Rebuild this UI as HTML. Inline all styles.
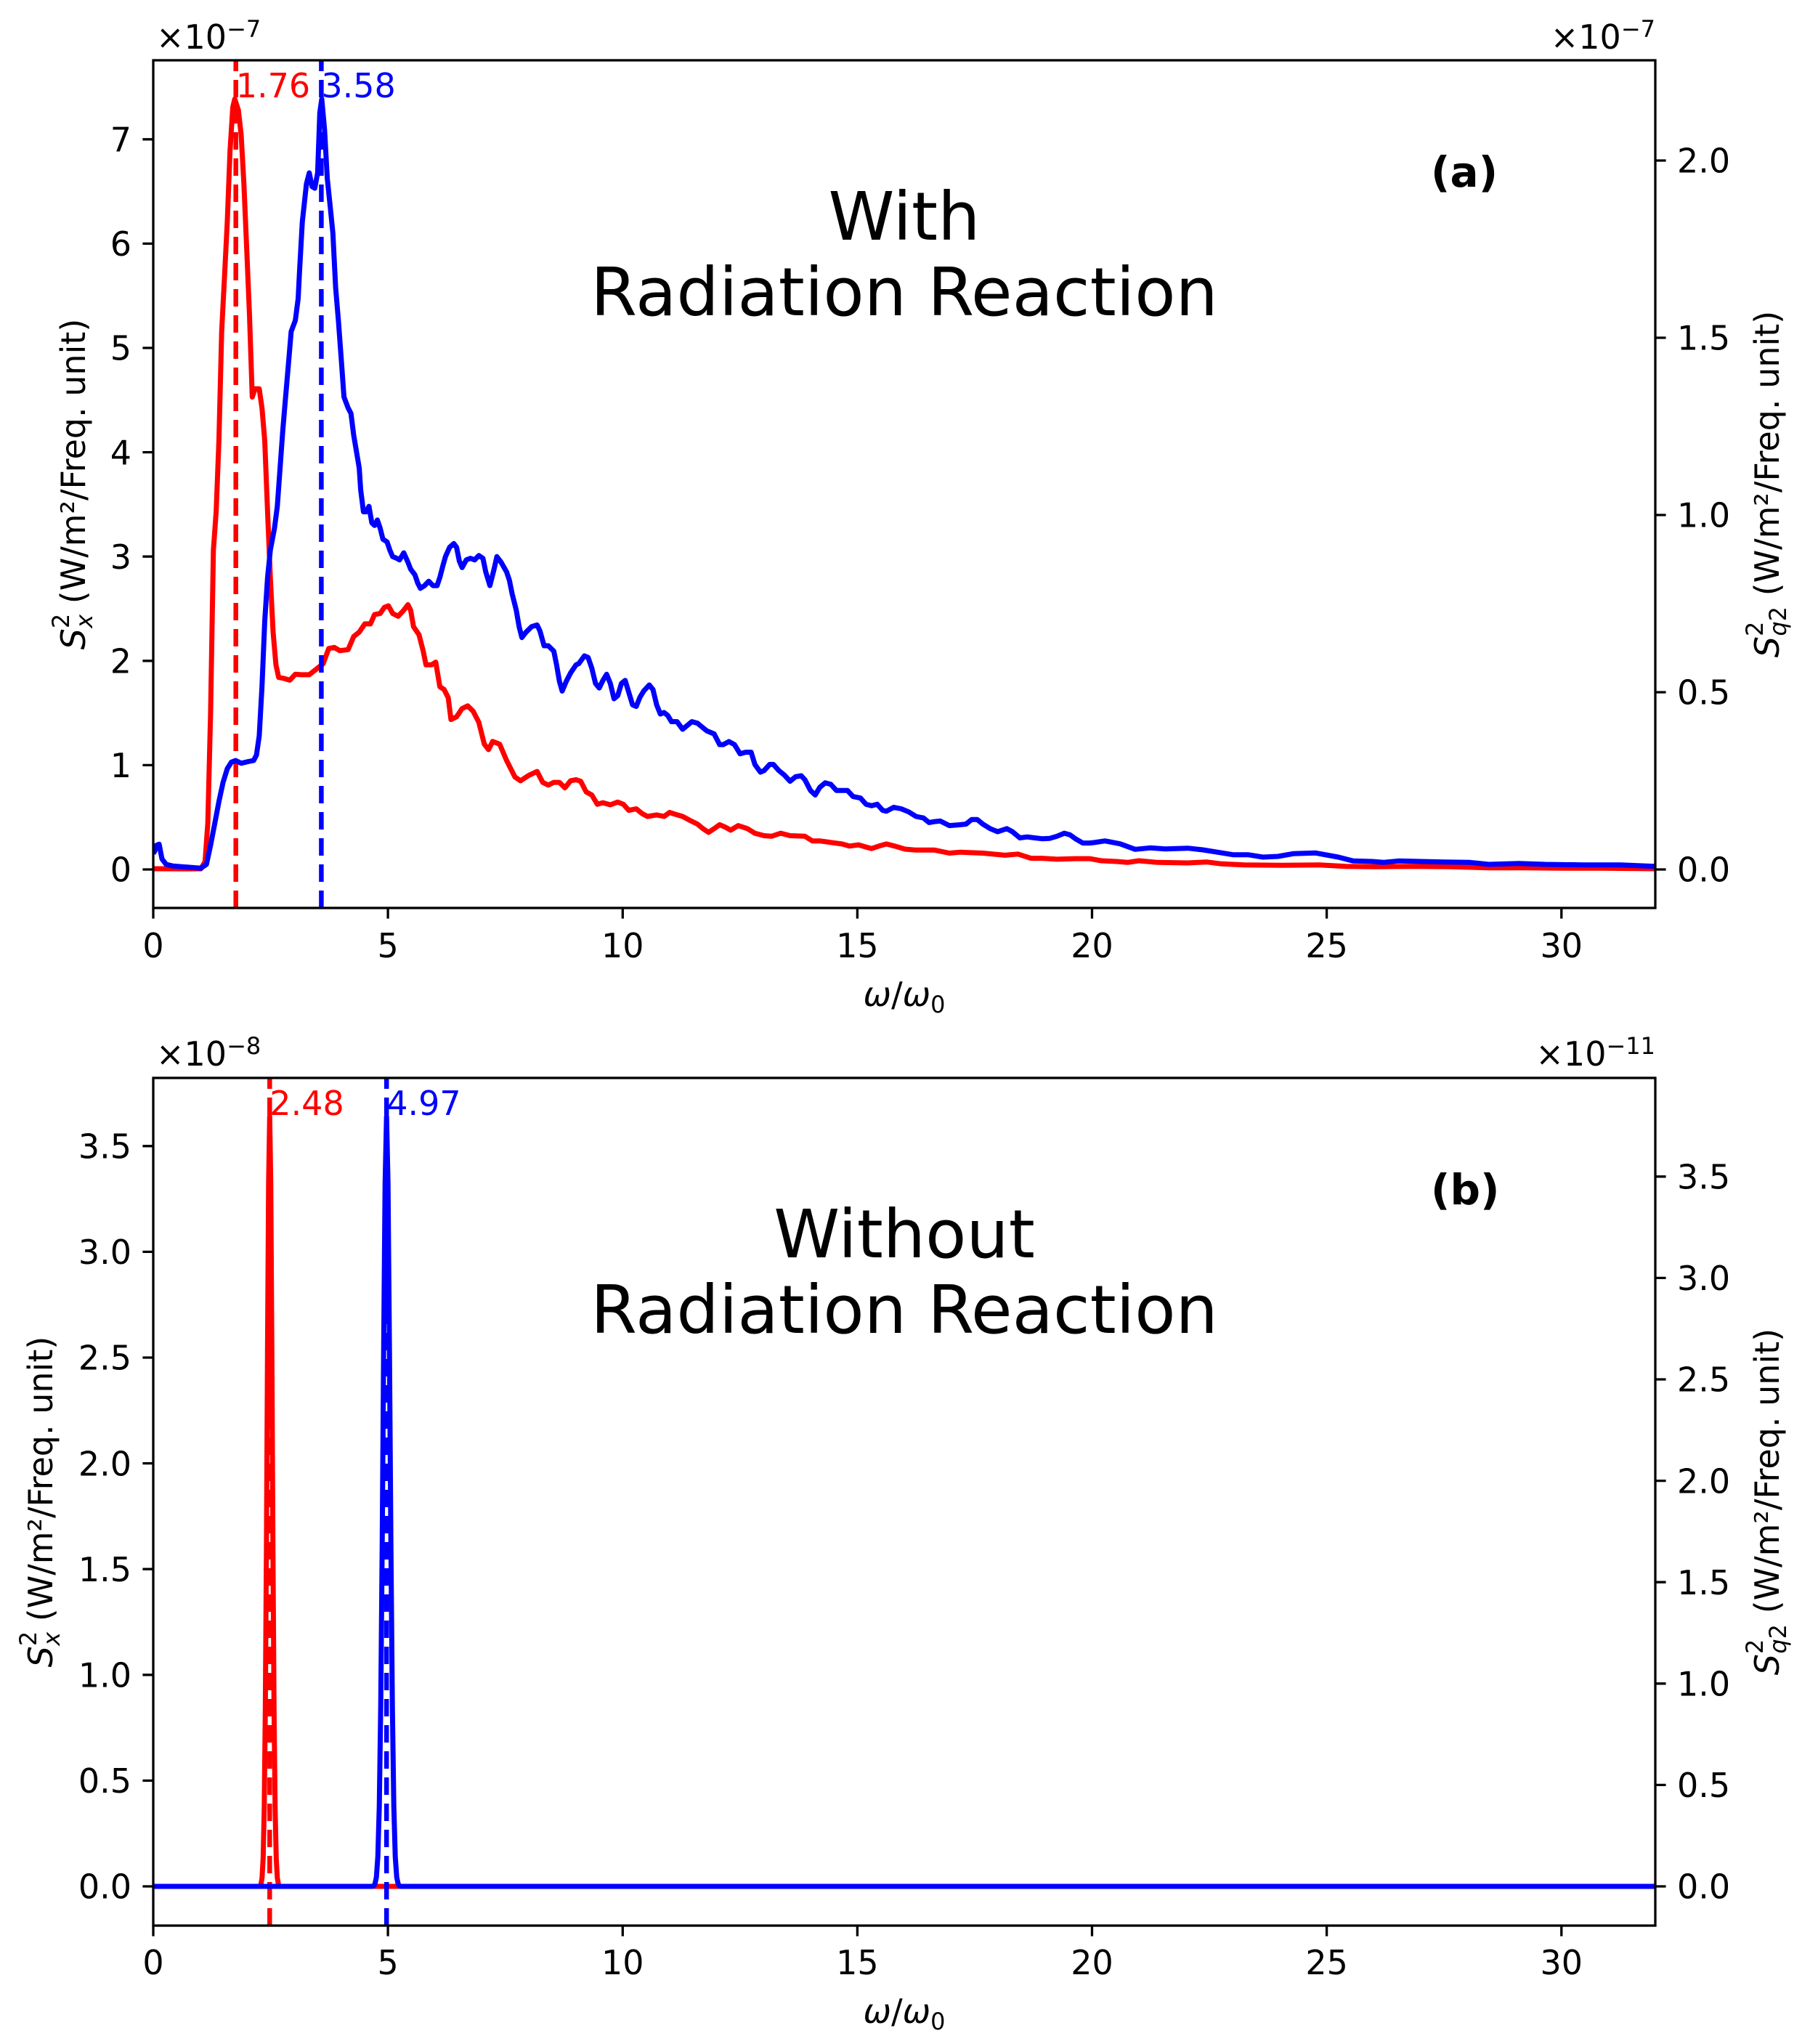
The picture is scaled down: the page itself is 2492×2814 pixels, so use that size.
<!DOCTYPE html>
<html>
<head>
<meta charset="utf-8">
<style>
html,body{margin:0;padding:0;background:#ffffff;}
svg{display:block;}
text{font-family:"DejaVu Sans","Liberation Sans",sans-serif;}
</style>
</head>
<body>
<svg xmlns="http://www.w3.org/2000/svg" width="2492" height="2814" viewBox="0 0 2492 2814">
<rect x="0" y="0" width="2492" height="2814" fill="#ffffff"/>
<defs>
<clipPath id="ca"><rect x="211" y="83" width="2068" height="1167"/></clipPath>
<clipPath id="cb"><rect x="211" y="1484" width="2068" height="1167"/></clipPath>
</defs>

<!-- ================= PANEL (a) ================= -->
<g clip-path="url(#ca)" fill="none" stroke-linejoin="round" stroke-width="7">
<polyline stroke="#ff0000" points="211,1196 276.5,1196.1 282.3,1186.3 286.1,1133.6 289.9,983.1 293.8,757.3 297.6,704.6 301.4,606.8 305.2,456.3 309.1,381 312.9,305.8 316.7,207.9 320.5,147.7 323.2,136.4 328.2,151.5 332,185.4 335.8,253.1 339.7,343.4 343.5,433.7 347.3,546.6 351.2,535.3 356.9,535.3 360.7,561.6 364.5,606.8 368.4,704.6 372.2,794.9 376,870.2 379.9,915.3 383.7,932.6 391.3,934.1 399,936.4 406.6,928.2 414.3,928.9 425.8,928.9 433.4,922.9 444.9,913.8 452.6,892.8 460.2,891.3 467.9,895.8 479.3,894.3 487,876.2 494.6,870.2 502.3,858.9 510,858.9 515.7,846.1 523.4,844.6 529.1,836.3 534.8,834 540.6,844.6 548.2,848.4 555.9,840.1 561.6,832.5 565.4,840.1 569.3,862.7 576.9,873.9 582.7,896.5 586.5,915.3 594.1,915.3 599.9,911.6 605.6,945.4 611.4,949.2 617.1,960.5 620.9,990.6 628.6,986.8 636.2,975.5 643.9,971.8 651.5,979.3 659.2,994.3 666.8,1024.5 672.6,1032 678.3,1020.7 687.9,1024.5 697.5,1047 708.9,1069.6 716.6,1074.9 728.1,1067.4 739.5,1062.1 747.2,1077.1 754.9,1080.9 762.5,1077.1 770.2,1077.1 777.8,1084.6 785.5,1074.9 793.1,1073.4 799.5,1075.6 807.1,1090.3 814.8,1094.5 822.4,1107.2 830.1,1105.1 840.3,1108 850.5,1104.2 858.2,1107.2 865.8,1115.6 876,1113.5 883.7,1119.8 891.3,1124 904.1,1121.9 914.3,1124 921.9,1118.5 929.6,1121 939.8,1124 950,1129.5 960.2,1134.5 967.9,1140.8 975.5,1145.9 983.2,1140.8 990.8,1135.4 998.5,1138.7 1006.1,1142.9 1016.3,1136.6 1029.1,1140.8 1039.3,1147.1 1052,1150.5 1062.2,1151.3 1075,1147.1 1087.8,1150.5 1108.2,1151.3 1118.4,1157.7 1128.6,1157.7 1143.9,1159.8 1159.2,1161.9 1169.4,1164.8 1182.1,1163.1 1192.3,1166.1 1200,1168.2 1210.2,1164.8 1220.4,1161.9 1233.2,1165.2 1245.9,1169 1261.2,1170.3 1286.7,1170.3 1307.1,1174.5 1322.4,1173.2 1353.1,1174.5 1383.7,1177.4 1401.5,1175.8 1419.4,1181.6 1434.7,1181.6 1455.1,1182.9 1480.6,1182.1 1500,1182.1 1516.3,1185 1537,1186 1552.5,1187.3 1568,1185 1594,1187.3 1635.4,1188 1661.3,1186.7 1682,1189.3 1713,1190.7 1764.8,1191.3 1816.6,1190.7 1852.9,1192.7 1894.3,1193.3 1946,1192.7 1997.9,1193.3 2049.7,1194.7 2101.4,1194.7 2153.2,1195.3 2205,1195.3 2279,1196"/>
<path d="M324.7,1250 L324.7,83" stroke="#ff0000" stroke-width="6.5" stroke-dasharray="24 12"/>
<polyline stroke="#0000ff" points="211,1175 213.4,1171.2 215.3,1163.7 219.1,1162.2 223,1182.5 228.7,1190 238.3,1192.3 257.4,1193.8 276.5,1195.3 284.2,1190 289.9,1163.7 295.7,1133.6 301.4,1103.5 307.1,1077.1 312.9,1058.3 318.6,1049.3 324.4,1047 332,1050.8 341.6,1048.5 349.2,1047 353.1,1039.5 356.9,1013.2 360.7,945.4 364.5,855.1 368.4,794.9 372.2,757.3 377.9,727.2 381.8,697.1 385.6,644.4 389.4,591.7 393.2,546.6 397.1,501.4 400.9,456.3 406.6,441.2 410.5,411.1 412.4,373.5 416.2,305.8 421.9,253.1 425.8,238 429.6,256.9 433.4,259.1 437.3,238 440.3,155.3 443,136.4 446.8,177.8 450.6,245.6 454.5,283.2 458.3,320.8 462.1,396.1 465.9,441.2 469.8,493.9 473.6,546.6 479.3,561.6 483.2,569.2 487,599.3 490.8,621.8 494.6,644.4 496.6,674.5 500.4,704.6 504.2,704.6 508,697.1 511.9,719.7 515.7,723.4 519.5,715.9 523.4,727.2 527.2,742.3 532.9,746 536.7,757.3 540.6,766.3 546.3,768.6 550.1,770.8 555.9,761.1 561.6,773.9 565.4,783.6 571.2,791.2 575,802.4 578.8,810 584.6,806.2 590.3,800.2 596.1,806.2 601.8,806.2 605.6,794.9 609.5,779.9 613.3,766.3 619,753.5 624.8,748.3 628.6,753.5 632.4,772.4 636.2,781.4 642,770.8 647.7,768.6 653.5,770.8 659.2,764.8 664.9,768.6 668.8,787.4 674.5,806.2 680.2,783.6 684.1,766.3 689.8,773.9 697.5,787.4 701.3,798.7 705.1,817.5 710.8,840.1 714.7,862.7 718.5,877.7 724.3,870.2 731.9,862.7 739.5,860.4 743.4,868.7 749.1,889 754.9,889 762.5,896.5 766.3,915.3 770.2,937.9 774,951.4 779.7,937.9 785.5,926.6 793.1,915.3 796.9,913.6 804.6,903 809.7,905.1 814.8,919.9 819.9,940.9 825,947.2 830.1,936.7 835.2,928.3 840.3,940.9 845.4,962 850.5,957.7 855.6,940.9 860.7,936.7 865.8,953.5 870.9,970.4 876,972.5 881.1,959.8 886.2,951.4 893.9,943 899,949.3 904.1,970.4 909.2,983 914.3,980.9 919.4,985.1 924.5,993.5 932.1,993.5 939.8,1004 944.9,999.8 952.6,993.5 960.2,995.6 967.9,1001.9 973,1006.1 983.2,1010.4 990.8,1025.1 995.9,1025.1 1003.6,1020.9 1011.2,1025.1 1018.9,1037.7 1026.5,1035.6 1034.2,1035.6 1039.3,1052.4 1046.9,1063 1052,1060.9 1059.7,1052.4 1064.8,1052.4 1072.4,1060.9 1080.1,1067.2 1087.8,1075.6 1095.4,1069.3 1103.1,1068 1108.2,1073.5 1115.8,1088.2 1122.4,1094.5 1128.6,1084 1136.2,1077.7 1143.9,1079.8 1151.5,1088.2 1159.2,1088.2 1166.8,1088.2 1174.5,1096.6 1184.7,1098.7 1192.3,1107.2 1200,1109.3 1207.7,1107.2 1215.3,1115.6 1220.4,1116.8 1230.6,1111.4 1240.8,1113.5 1251,1117.7 1261.2,1124 1271.4,1126.1 1279.1,1132.4 1286.7,1131.1 1294.4,1130.3 1307.1,1136.6 1322.4,1135.4 1330.1,1134.5 1337.8,1128.2 1345.4,1128.2 1353.1,1134.5 1363.3,1140.8 1373.5,1145 1386.2,1140.8 1393.9,1145 1404.1,1153.5 1414.3,1152.2 1424.5,1153.5 1434.7,1154.7 1444.9,1154.3 1455.1,1151.3 1465.3,1147.1 1473,1149.2 1480.6,1154.7 1490.8,1160.6 1500,1160.6 1505.9,1160 1521.4,1157.7 1542.1,1161.7 1562.9,1169.3 1583.6,1167.3 1604.3,1168.7 1635.4,1167.7 1656.1,1170 1676.8,1173.3 1697.5,1176.7 1718.2,1176.7 1738.9,1180 1759.6,1179 1780.4,1175.3 1811.4,1174.3 1842.5,1180 1863.2,1185.3 1889.1,1186 1904.6,1187.3 1925.4,1185.3 1956.4,1186 1987.5,1186.7 2023.7,1187.3 2049.7,1190 2091.1,1188.7 2127.4,1190 2179.1,1190.7 2230.9,1190.7 2279,1192.7"/>
<path d="M442.4,1250 L442.4,83" stroke="#0000ff" stroke-width="6.5" stroke-dasharray="24 12"/>
</g>

<!-- spines a -->
<rect x="211" y="83" width="2068" height="1167" fill="none" stroke="#000" stroke-width="3.3"/>
<!-- ticks a -->
<g stroke="#000" stroke-width="3.3">
<path d="M196.4,1197H211M196.4,1053.4H211M196.4,909.8H211M196.4,766.2H211M196.4,622.6H211M196.4,479H211M196.4,335.4H211M196.4,191.8H211"/>
<path d="M2279,1197H2293.6M2279,953H2293.6M2279,709H2293.6M2279,465H2293.6M2279,221H2293.6"/>
<path d="M211,1250V1264.6M534.1,1250V1264.6M857.3,1250V1264.6M1180.4,1250V1264.6M1503.5,1250V1264.6M1826.6,1250V1264.6M2149.8,1250V1264.6"/>
</g>
<g font-size="46" fill="#000">
<g text-anchor="end">
<text x="181" y="1213.7">0</text>
<text x="181" y="1070.1">1</text>
<text x="181" y="926.5">2</text>
<text x="181" y="782.9">3</text>
<text x="181" y="639.3">4</text>
<text x="181" y="495.7">5</text>
<text x="181" y="352.1">6</text>
<text x="181" y="208.5">7</text>
</g>
<g text-anchor="start">
<text x="2309" y="1213.7">0.0</text>
<text x="2309" y="969.7">0.5</text>
<text x="2309" y="725.7">1.0</text>
<text x="2309" y="481.7">1.5</text>
<text x="2309" y="237.7">2.0</text>
</g>
<g text-anchor="middle">
<text x="211" y="1318">0</text>
<text x="534.1" y="1318">5</text>
<text x="857.3" y="1318">10</text>
<text x="1180.4" y="1318">15</text>
<text x="1503.5" y="1318">20</text>
<text x="1826.6" y="1318">25</text>
<text x="2149.8" y="1318">30</text>
</g>
<text x="1245" y="1385" text-anchor="middle"><tspan font-style="italic">ω</tspan>/<tspan font-style="italic">ω</tspan><tspan font-size="32" dy="9">0</tspan></text>
<text x="215" y="67">×10<tspan font-size="32" dy="-16">−7</tspan></text>
<text x="2279" y="67" text-anchor="end">×10<tspan font-size="32" dy="-16">−7</tspan></text>
<text x="324.7" y="134" fill="#ff0000">1.76</text>
<text x="442.4" y="134" fill="#0000ff">3.58</text>
<text transform="translate(117 666.5) rotate(-90)" text-anchor="middle"><tspan font-style="italic">S</tspan><tspan font-size="32" dy="-22">2</tspan><tspan font-size="32" font-style="italic" dx="-20" dy="32">x</tspan><tspan dy="-10"> (W/m²/Freq. unit)</tspan></text>
<text transform="translate(2449 666.5) rotate(-90)" text-anchor="middle"><tspan font-style="italic">S</tspan><tspan font-size="32" dy="-22">2</tspan><tspan font-size="32" font-style="italic" dx="-20" dy="32">q</tspan><tspan font-size="32">2</tspan><tspan dy="-10"> (W/m²/Freq. unit)</tspan></text>
</g>
<text x="1245" y="330" font-size="92" text-anchor="middle">With</text>
<text x="1245" y="434" font-size="92" text-anchor="middle">Radiation Reaction</text>
<text x="1970" y="257" font-size="58" font-weight="bold">(a)</text>

<!-- ================= PANEL (b) ================= -->
<g clip-path="url(#cb)" fill="none" stroke-linejoin="round" stroke-width="7">
<polyline stroke="#ff0000" points="211,2597 356.3,2597 357.8,2596.5 359.3,2594 360.8,2585.2 362.3,2558.1 363.8,2490.3 365.3,2353.2 366.8,2133.8 368.3,1862.4 369.8,1630.3 371.3,1537 372.8,1630.3 374.3,1862.4 375.8,2133.8 377.3,2353.2 378.8,2490.3 380.3,2558.1 381.8,2585.2 383.3,2594 384.8,2596.5 386.3,2597 2279,2597"/>
<path d="M371.3,2651 L371.3,1484" stroke="#ff0000" stroke-width="6.5" stroke-dasharray="24 12"/>
<polyline stroke="#0000ff" points="211,2597 512.2,2597 514.2,2596.6 516.2,2593.8 518.2,2584.5 520.2,2556.3 522.2,2486.8 524.2,2348 526.2,2127.6 528.2,1859.2 530.2,1629.2 532.2,1537 534.2,1629.2 536.2,1859.2 538.2,2127.6 540.2,2348 542.2,2486.8 544.2,2556.3 546.2,2584.5 548.2,2593.8 550.2,2596.6 552.2,2597 2279,2597"/>
<path d="M532.2,2651 L532.2,1484" stroke="#0000ff" stroke-width="6.5" stroke-dasharray="24 12"/>
</g>

<rect x="211" y="1484" width="2068" height="1167" fill="none" stroke="#000" stroke-width="3.3"/>
<g stroke="#000" stroke-width="3.3">
<path d="M196.4,2597H211M196.4,2451.4H211M196.4,2305.8H211M196.4,2160.2H211M196.4,2014.6H211M196.4,1869H211M196.4,1723.4H211M196.4,1577.8H211"/>
<path d="M2279,2597H2293.6M2279,2457.4H2293.6M2279,2317.8H2293.6M2279,2178.2H2293.6M2279,2038.6H2293.6M2279,1899H2293.6M2279,1759.4H2293.6M2279,1619.8H2293.6"/>
<path d="M211,2651V2665.6M534.1,2651V2665.6M857.3,2651V2665.6M1180.4,2651V2665.6M1503.5,2651V2665.6M1826.6,2651V2665.6M2149.8,2651V2665.6"/>
</g>
<g font-size="46" fill="#000">
<g text-anchor="end">
<text x="181" y="2613.7">0.0</text>
<text x="181" y="2468.1">0.5</text>
<text x="181" y="2322.5">1.0</text>
<text x="181" y="2176.9">1.5</text>
<text x="181" y="2031.3">2.0</text>
<text x="181" y="1885.7">2.5</text>
<text x="181" y="1740.1">3.0</text>
<text x="181" y="1594.5">3.5</text>
</g>
<g text-anchor="start">
<text x="2309" y="2613.7">0.0</text>
<text x="2309" y="2474.1">0.5</text>
<text x="2309" y="2334.5">1.0</text>
<text x="2309" y="2194.9">1.5</text>
<text x="2309" y="2055.3">2.0</text>
<text x="2309" y="1915.7">2.5</text>
<text x="2309" y="1776.1">3.0</text>
<text x="2309" y="1636.5">3.5</text>
</g>
<g text-anchor="middle">
<text x="211" y="2718">0</text>
<text x="534.1" y="2718">5</text>
<text x="857.3" y="2718">10</text>
<text x="1180.4" y="2718">15</text>
<text x="1503.5" y="2718">20</text>
<text x="1826.6" y="2718">25</text>
<text x="2149.8" y="2718">30</text>
</g>
<text x="1245" y="2785" text-anchor="middle"><tspan font-style="italic">ω</tspan>/<tspan font-style="italic">ω</tspan><tspan font-size="32" dy="9">0</tspan></text>
<text x="215" y="1467">×10<tspan font-size="32" dy="-16">−8</tspan></text>
<text x="2279" y="1467" text-anchor="end">×10<tspan font-size="32" dy="-16">−11</tspan></text>
<text x="371.3" y="1535" fill="#ff0000">2.48</text>
<text x="532.2" y="1535" fill="#0000ff">4.97</text>
<text transform="translate(72 2067.5) rotate(-90)" text-anchor="middle"><tspan font-style="italic">S</tspan><tspan font-size="32" dy="-22">2</tspan><tspan font-size="32" font-style="italic" dx="-20" dy="32">x</tspan><tspan dy="-10"> (W/m²/Freq. unit)</tspan></text>
<text transform="translate(2449 2067.5) rotate(-90)" text-anchor="middle"><tspan font-style="italic">S</tspan><tspan font-size="32" dy="-22">2</tspan><tspan font-size="32" font-style="italic" dx="-20" dy="32">q</tspan><tspan font-size="32">2</tspan><tspan dy="-10"> (W/m²/Freq. unit)</tspan></text>
</g>
<text x="1245" y="1731" font-size="92" text-anchor="middle">Without</text>
<text x="1245" y="1835" font-size="92" text-anchor="middle">Radiation Reaction</text>
<text x="1970" y="1658" font-size="58" font-weight="bold">(b)</text>
</svg>
</body>
</html>
